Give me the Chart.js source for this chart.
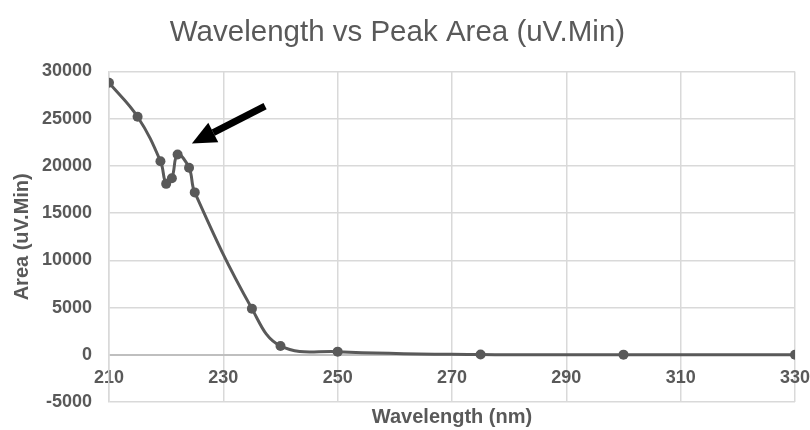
<!DOCTYPE html>
<html>
<head>
<meta charset="utf-8">
<title>Wavelength vs Peak Area</title>
<script src="https://cdn.jsdelivr.net/npm/chart.js@4"></script>
<style>
  body{margin:0;background:#fff;}
  canvas{display:block;}
</style>
</head>
<body>
<canvas id="areaChart" width="810" height="430"></canvas>
<script>
//data
let wavelengths=[210, 215, 219, 220, 221, 222, 224, 225, 235, 240, 250, 275, 300, 330];
let areas=[28800, 25200, 20500, 18100, 18700, 21200, 19800, 17200, 4900, 950, 350, 50, 30, 20];
let xTicks=[210, 230, 250, 270, 290, 310, 330];
let yTicks=[-5000, 0, 5000, 10000, 15000, 20000, 25000, 30000];
//arrow pointing at the small peak (tail, head) in data units
let arrowFrom=[237.3, 26330];
let arrowTo=[224.5, 22380];

let grey='#595959';
Chart.defaults.font.family="'Liberation Sans', Arial, sans-serif";
Chart.defaults.color=grey;

//draws the black arrow on top of the line
let arrowPlugin={
  id:'arrow',
  afterDatasetsDraw(chart){
    let ctx=chart.ctx;
    let x=chart.scales.x, y=chart.scales.y;
    let x1=x.getPixelForValue(arrowFrom[0]), y1=y.getPixelForValue(arrowFrom[1]);
    let x2=x.getPixelForValue(arrowTo[0]), y2=y.getPixelForValue(arrowTo[1]);
    let ang=Math.atan2(y2-y1, x2-x1);
    let headLen=24, headW=11;
    let bx=x2-headLen*Math.cos(ang), by=y2-headLen*Math.sin(ang);
    ctx.save();
    ctx.strokeStyle='#000';
    ctx.fillStyle='#000';
    ctx.lineWidth=7;
    ctx.beginPath();
    ctx.moveTo(x1, y1);
    ctx.lineTo(bx, by);
    ctx.stroke();
    ctx.beginPath();
    ctx.moveTo(x2, y2);
    ctx.lineTo(bx+headW*Math.sin(ang), by-headW*Math.cos(ang));
    ctx.lineTo(bx-headW*Math.sin(ang), by+headW*Math.cos(ang));
    ctx.closePath();
    ctx.fill();
    ctx.restore();
  }
};

let areaChart=new Chart(document.getElementById('areaChart'), {
  type:'line',
  data:{
    datasets:[{
      data:wavelengths.map((w, i)=>({x:w, y:areas[i]})),
      borderColor:grey,
      backgroundColor:grey,
      borderWidth:3,
      pointRadius:5,
      pointBorderWidth:0,
      tension:0.4,
      fill:false
    }]
  },
  options:{
    responsive:false,
    animation:false,
    layout:{padding:{top:0, right:15, bottom:0, left:0}},
    plugins:{
      legend:{display:false},
      tooltip:{enabled:false},
      title:{
        display:true,
        text:'Wavelength vs Peak Area (uV.Min)',
        color:grey,
        font:{size:29.5, weight:'normal'},
        padding:{top:15, bottom:21}
      }
    },
    scales:{
      x:{
        type:'linear',
        min:210,
        max:330,
        afterBuildTicks:(s)=>{s.ticks=xTicks.map(v=>({value:v}));},
        afterFit:(s)=>{s.height=27; s.paddingLeft=15; s.paddingRight=15;},
        //labels sit just under the zero line, like excel's axis crossing at 0
        ticks:{font:{size:18, weight:'bold'}, mirror:true, padding:13, maxRotation:0, color:grey},
        grid:{color:'#d9d9d9', lineWidth:1.5, drawTicks:false},
        border:{display:false},
        title:{display:true, text:'Wavelength (nm)', color:grey, font:{size:20, weight:'bold'}, padding:{top:0, bottom:0}}
      },
      y:{
        min:-5000,
        max:30000,
        afterBuildTicks:(s)=>{s.ticks=yTicks.map(v=>({value:v}));},
        afterFit:(s)=>{s.width=109;},
        ticks:{font:{size:18, weight:'bold'}, padding:17, color:grey, callback:(v)=>String(v)},
        grid:{
          color:(c)=>c.tick && c.tick.value===0 ? '#bfbfbf' : '#d9d9d9',
          lineWidth:(c)=>c.tick && c.tick.value===0 ? 2 : 1.5,
          drawTicks:false
        },
        border:{display:true, color:'#d9d9d9', width:1.5},
        title:{display:true, text:'Area (uV.Min)', color:grey, font:{size:20, weight:'bold'}, padding:{top:10, bottom:0}}
      }
    }
  },
  plugins:[arrowPlugin]
});
</script>
</body>
</html>
